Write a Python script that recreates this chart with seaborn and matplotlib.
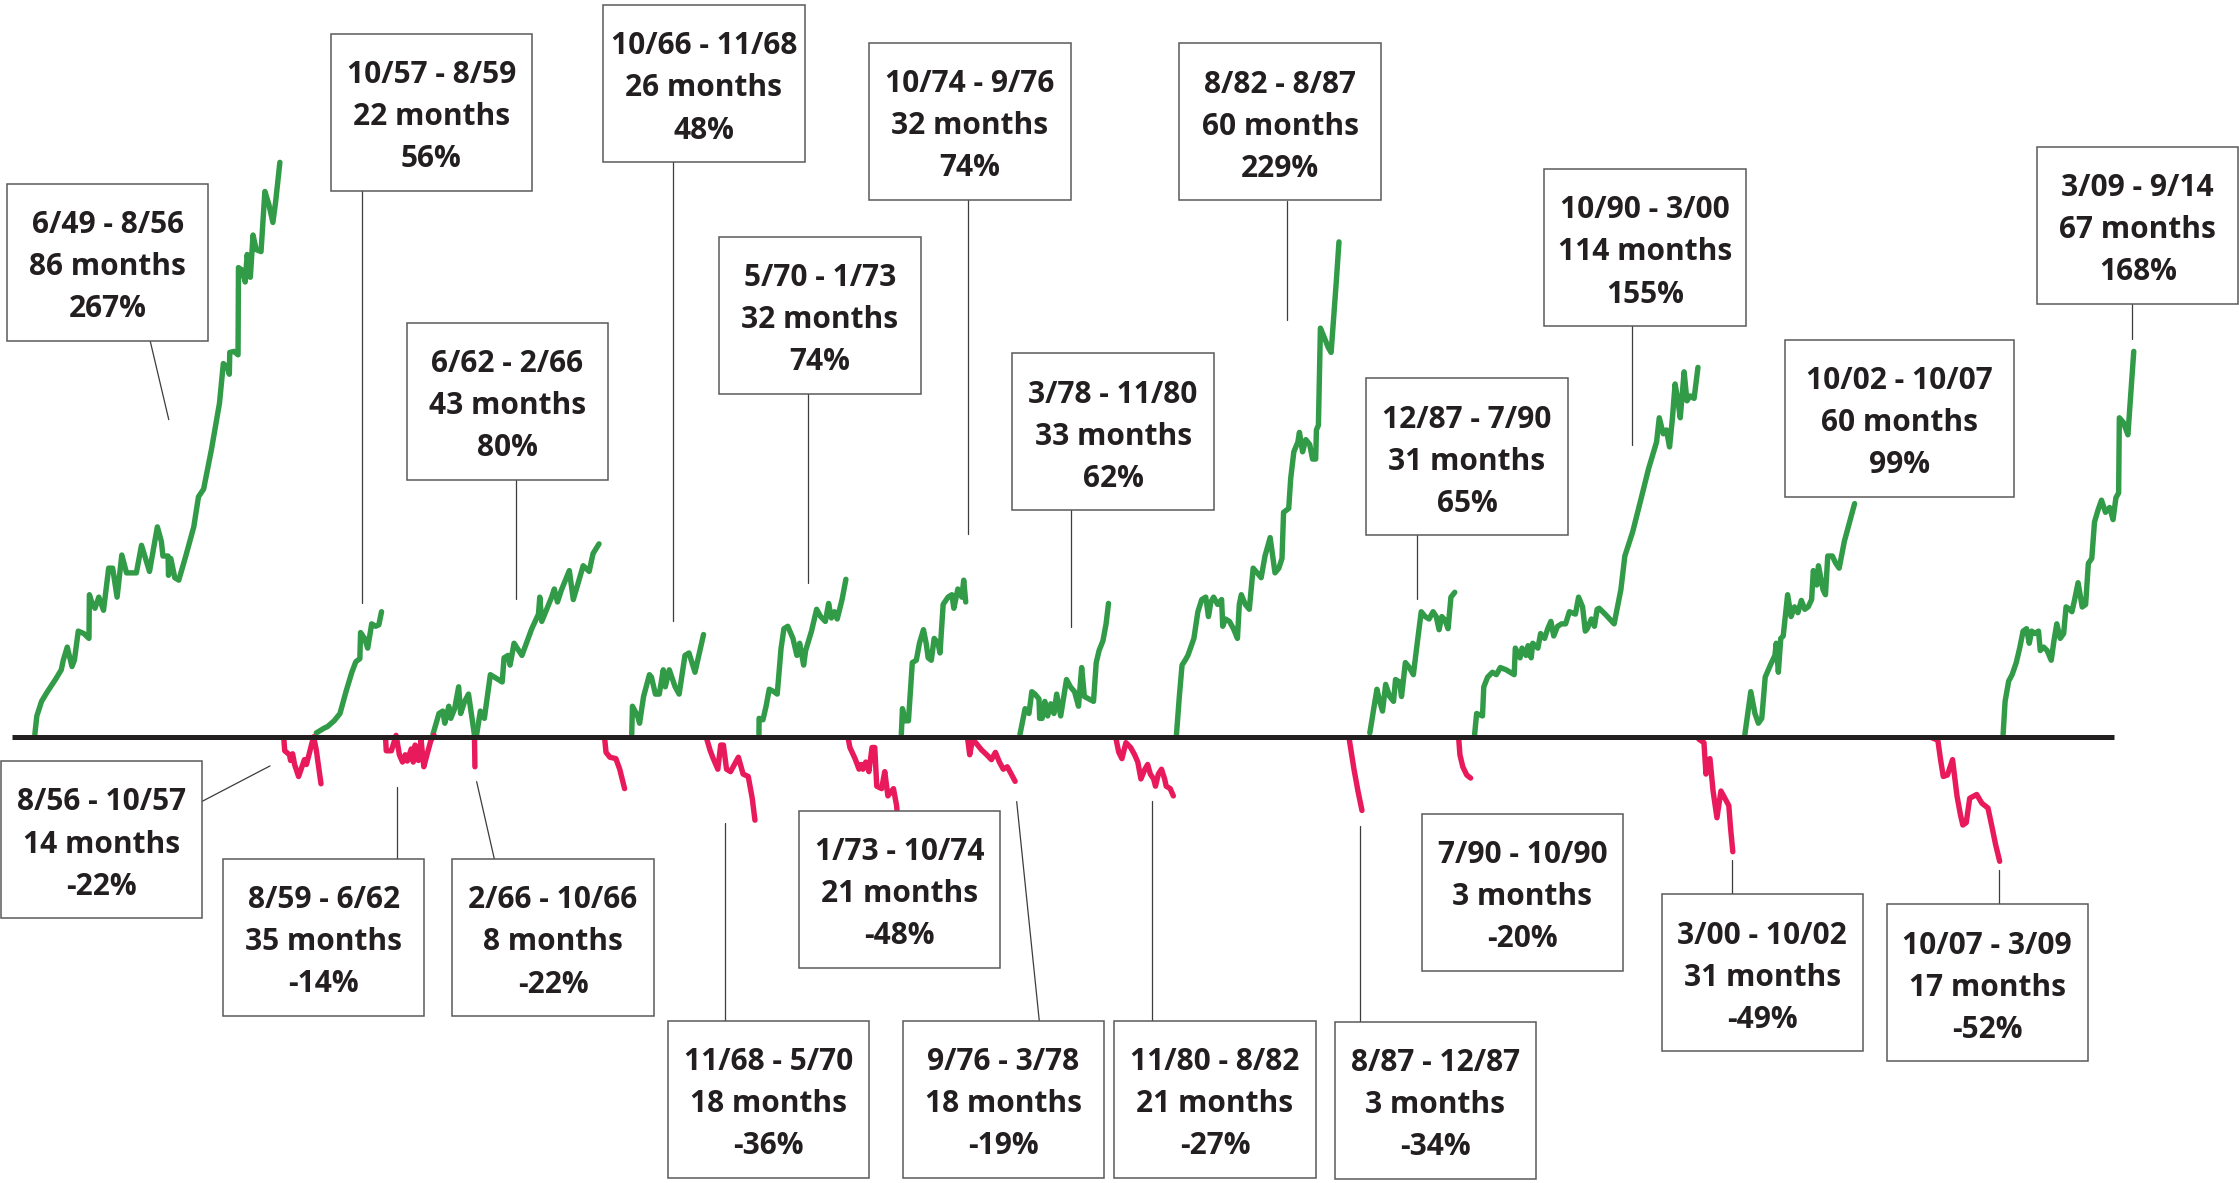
import numpy as np
import pandas as pd
import matplotlib
matplotlib.use("Agg")
import matplotlib.pyplot as plt
from matplotlib.patches import Rectangle
import seaborn as sns

# --- DATOS: tramos alcistas (verde) y bajistas (rojo) ---
# cada punto = (posicion en el eje del tiempo, nivel sobre la linea base)
bull_49_56 = [(24.4, 1.7), (25.8, 14.6), (29.1, 24.8), (33.2, 31.6), (38.8, 40.1), (42.9, 46.9),
              (44.3, 53.6), (47.1, 62.8), (50.4, 49.2), (52.1, 53.6), (54.8, 74.0), (58.7, 72.3),
              (62.3, 68.9), (62.6, 99.5), (64.2, 94.4), (66.5, 90.0), (69.2, 97.8), (72.5, 88.6),
              (76.1, 118.1), (78.9, 118.1), (82.0, 97.8), (85.3, 127.3), (88.6, 114.8), (95.5, 114.8),
              (99.1, 134.1), (104.7, 115.8), (110.2, 147.0), (113.0, 136.8), (114.1, 126.6),
              (117.7, 126.6), (118.0, 113.1), (119.6, 124.9), (122.4, 111.4), (125.2, 109.7),
              (130.1, 126.6), (135.7, 147.0), (139.0, 168.1), (142.6, 173.5), (148.1, 201.3),
              (153.7, 233.6), (156.4, 261.4), (159.2, 259.0), (160.6, 253.9), (160.9, 269.2),
              (163.9, 269.9), (166.7, 267.5), (167.0, 328.6), (169.5, 326.9), (171.7, 318.5),
              (173.1, 337.8), (175.3, 321.8), (177.2, 351.4), (179.4, 341.2), (182.8, 339.8),
              (185.5, 381.9), (188.3, 372.8), (191.1, 360.2), (193.0, 374.5), (196.0, 402.3)]
bull_57_59 = [(221.5, 2.7), (227.1, 6.1), (229.3, 7.1), (234.0, 11.2), (238.1, 16.3), (242.3, 31.6),
              (246.4, 45.2), (249.2, 52.6), (252.0, 54.7), (252.5, 73.0), (255.3, 68.9), (257.5, 62.1),
              (260.3, 79.1), (263.1, 77.4), (265.3, 78.4), (267.2, 87.6)]
bull_62_66a = [(303.2, 1.7), (307.4, 16.3), (310.1, 18.0), (311.5, 9.5), (314.3, 21.4), (315.7, 12.9),
               (318.4, 19.7), (321.2, 35.0), (322.6, 16.3), (325.4, 24.8), (328.1, 29.9), (332.3, 1.0)]
bull_62_66b = [(333.7, 1.0), (336.4, 18.0), (339.2, 12.9), (343.4, 43.5), (351.7, 38.4), (353.0, 55.3),
               (355.8, 57.0), (357.2, 50.2), (360.0, 65.5), (365.5, 57.0), (372.4, 75.7), (377.1, 85.9),
               (378.0, 97.8), (379.4, 80.8), (386.3, 97.8), (388.2, 103.5), (390.4, 94.4),
               (393.2, 102.9), (398.7, 116.4), (401.5, 96.1), (408.4, 119.8), (412.6, 115.8),
               (415.3, 128.3), (419.5, 135.1)]
bull_66_68 = [(442.4, 1.7), (442.9, 21.4), (446.5, 14.6), (447.9, 9.5), (450.7, 28.2), (454.8, 43.5),
              (456.2, 41.8), (459.0, 29.9), (461.7, 29.9), (464.5, 46.9), (465.9, 35.0), (468.7, 46.9),
              (472.8, 35.0), (475.6, 29.9), (479.7, 57.0), (482.5, 58.7), (486.7, 45.2), (492.7, 71.6)]
bull_70_73 = [(531.5, 1.7), (531.6, 12.9), (534.3, 11.9), (536.5, 21.4), (538.7, 33.3), (542.0, 31.6),
              (544.3, 29.9), (547.0, 62.1), (549.0, 75.7), (551.7, 77.4), (555.3, 68.9), (558.1, 57.0),
              (560.0, 65.5), (562.8, 50.2), (564.2, 60.4), (568.3, 74.0), (571.9, 89.3), (574.7, 84.2),
              (578.0, 80.8), (580.3, 93.4), (582.2, 83.2), (584.4, 87.6), (586.3, 82.5), (589.7, 96.1),
              (592.4, 110.3)]
bull_74_76 = [(631.2, 1.7), (632.0, 19.7), (634.0, 11.2), (636.2, 11.2), (638.9, 52.0), (641.7, 53.6),
              (643.9, 65.5), (646.7, 75.0), (648.6, 65.5), (650.0, 55.3), (652.2, 53.6), (654.2, 68.9),
              (656.9, 65.5), (658.3, 58.7), (660.5, 92.7), (663.9, 97.8), (666.6, 99.5), (668.0, 90.0),
              (670.8, 103.5), (673.6, 97.8), (674.9, 109.7), (676.3, 94.4)]
bull_78_80 = [(714.3, 1.7), (717.9, 19.7), (720.6, 16.3), (722.6, 31.6), (724.8, 29.9), (727.6, 26.5),
              (728.1, 12.9), (729.8, 12.9), (731.7, 24.8), (733.7, 14.6), (735.9, 23.1), (738.1, 16.3),
              (740.0, 29.9), (742.8, 14.6), (746.9, 40.1), (749.7, 34.9), (752.5, 31.6), (755.3, 21.4),
              (757.5, 48.5), (759.4, 28.2), (765.8, 24.8), (767.7, 51.9), (769.7, 60.4), (772.4, 67.2),
              (774.6, 79.1), (776.3, 93.4)]
bull_82_87 = [(823.9, 1.7), (825.9, 28.2), (827.8, 50.2), (830.0, 53.6), (831.9, 57.0), (836.1, 68.9),
              (838.9, 87.6), (841.6, 96.1), (844.4, 97.8), (846.3, 84.2), (848.0, 94.4), (849.9, 97.8),
              (852.7, 92.7), (855.5, 96.1), (856.3, 77.4), (858.2, 82.5), (861.0, 80.8), (863.8, 75.7),
              (866.6, 68.9), (867.9, 92.7), (869.3, 99.5), (872.1, 92.7), (874.9, 89.3), (877.6, 118.1),
              (880.4, 114.8), (883.2, 111.4), (885.9, 126.6), (889.5, 139.5), (892.9, 114.8),
              (895.6, 118.1), (897.8, 124.9), (898.9, 157.2), (902.5, 159.9), (903.9, 181.0),
              (906.1, 199.6), (908.9, 206.4), (910.0, 213.2), (912.2, 199.6), (914.5, 208.1),
              (917.2, 204.7), (919.2, 194.5), (921.4, 194.5), (921.9, 214.9), (923.3, 218.3),
              (924.7, 286.2), (927.5, 279.4), (930.2, 272.6), (932.2, 269.2), (935.8, 318.5),
              (937.7, 346.6)]
bull_87_90 = [(959.3, 2.7), (962.6, 23.1), (964.3, 33.3), (966.2, 24.8), (968.2, 18.0), (970.4, 36.7),
              (973.2, 28.2), (975.9, 24.8), (977.3, 40.1), (980.1, 38.4), (981.5, 28.2), (984.2, 52.0),
              (987.0, 48.5), (989.8, 43.5), (992.5, 65.5), (995.3, 87.6), (998.1, 84.2), (1000.8, 82.5),
              (1003.6, 87.6), (1005.8, 84.2), (1007.8, 75.0), (1009.7, 84.2), (1011.9, 81.8),
              (1014.1, 75.7), (1016.1, 97.8), (1018.8, 101.2)]
bull_90_00 = [(1032.7, 1.7), (1034.1, 16.3), (1038.2, 14.6), (1039.1, 34.9), (1041.8, 41.8),
              (1045.2, 45.2), (1047.9, 43.5), (1050.7, 48.5), (1054.8, 46.9), (1060.4, 43.5),
              (1061.2, 62.1), (1064.5, 55.3), (1065.9, 62.1), (1068.7, 57.0), (1070.1, 63.8),
              (1072.3, 55.3), (1073.4, 65.5), (1077.0, 62.1), (1078.9, 72.3), (1081.7, 68.9),
              (1083.9, 75.7), (1086.1, 80.8), (1088.1, 70.6), (1090.8, 77.4), (1093.6, 79.1),
              (1096.4, 79.1), (1099.1, 87.6), (1103.3, 85.9), (1105.5, 97.8), (1108.3, 91.0),
              (1110.2, 74.0), (1111.6, 75.7), (1114.4, 82.5), (1116.6, 77.4), (1118.5, 89.3),
              (1119.9, 90.0), (1124.1, 85.9), (1130.4, 79.1), (1135.1, 102.9), (1137.9, 126.6),
              (1143.4, 143.6), (1149.0, 165.7), (1154.5, 187.7), (1160.1, 206.4), (1162.0, 223.4),
              (1164.8, 212.2), (1167.0, 214.9), (1169.2, 203.0), (1171.1, 221.7), (1173.1, 247.1),
              (1175.3, 233.6), (1176.7, 223.4), (1179.4, 255.6), (1181.4, 235.3), (1183.6, 238.7),
              (1186.4, 237.0), (1189.1, 258.7)]
bull_02_07 = [(1221.8, 0.5), (1226.1, 31.6), (1229.0, 16.3), (1231.4, 9.5), (1233.8, 12.9),
              (1236.2, 41.8), (1239.8, 50.2), (1243.0, 57.0), (1243.9, 65.5), (1245.4, 45.2),
              (1247.1, 68.9), (1248.8, 70.6), (1251.9, 99.5), (1254.3, 84.2), (1256.7, 91.0),
              (1259.1, 86.9), (1261.5, 95.5), (1263.9, 89.3), (1266.3, 91.0), (1268.7, 96.1),
              (1269.9, 116.4), (1272.3, 106.3), (1273.5, 119.8), (1276.7, 102.9), (1278.4, 99.5),
              (1280.0, 126.6), (1283.2, 126.6), (1285.6, 121.5), (1288.0, 118.1), (1291.6, 136.8),
              (1298.8, 163.3)]
bull_09_14 = [(1402.8, 1.7), (1404.2, 24.8), (1406.7, 39.0), (1409.1, 43.5), (1412.0, 51.9),
              (1414.4, 62.1), (1416.8, 74.0), (1419.2, 75.7), (1421.1, 65.5), (1422.8, 74.0),
              (1425.2, 72.3), (1427.6, 74.0), (1428.8, 60.4), (1431.2, 62.8), (1433.6, 60.4),
              (1436.5, 53.6), (1438.4, 67.2), (1440.4, 79.1), (1442.8, 68.9), (1445.2, 72.3),
              (1446.9, 91.0), (1449.3, 89.3), (1451.0, 87.6), (1452.9, 96.1), (1455.3, 107.9),
              (1458.2, 90.9), (1460.6, 92.7), (1462.5, 121.5), (1464.9, 124.9), (1466.8, 150.4),
              (1469.3, 158.9), (1471.7, 165.7), (1474.5, 157.2), (1477.4, 160.6), (1479.8, 152.1),
              (1481.8, 167.4), (1483.7, 170.8), (1484.2, 223.4), (1487.1, 220.0), (1490.2, 211.5),
              (1494.3, 269.9)]

bear_56_57 = [(198.8, -1.7), (199.4, -9.8), (202.7, -12.6), (203.5, -16.6), (204.9, -11.9),
              (206.3, -19.4), (209.1, -27.8), (213.2, -16.0), (214.6, -19.4), (219.6, 0.0),
              (221.5, -9.2), (222.9, -19.4), (224.8, -32.9)]
bear_59_62 = [(270.0, -0.7), (270.5, -9.8), (274.1, -9.8), (277.4, 1.0), (279.7, -12.6), (281.9, -17.7),
              (283.8, -12.6), (285.2, -17.0), (288.0, -8.5), (289.4, -17.7), (290.7, -5.8),
              (293.0, -16.6), (294.9, -2.4), (296.8, -21.0), (299.0, -12.6), (301.8, -2.4), (304.0, 1.0)]
bear_66_spike = [(332.3, -1.0), (332.6, -21.0)]
bear_66_66 = [(423.5, -1.7), (424.4, -10.9), (427.1, -14.3), (431.3, -15.3), (434.0, -22.7),
              (437.4, -36.3)]
bear_68_70 = [(495.0, -1.7), (497.2, -9.2), (499.1, -14.3), (502.7, -22.7), (504.7, -5.8), (506.6, -5.8),
              (508.8, -22.7), (511.6, -24.4), (517.1, -14.3), (520.4, -26.1), (524.0, -27.8),
              (526.8, -43.1), (528.7, -58.4)]
bear_73_74 = [(594.1, -1.7), (595.2, -7.5), (598.8, -15.3), (601.6, -22.7), (603.0, -19.4),
              (604.3, -22.7), (606.3, -17.7), (608.5, -24.4), (610.7, -7.5), (612.6, -7.5),
              (614.0, -34.6), (617.4, -36.3), (619.6, -24.4), (621.8, -41.4), (625.7, -36.3),
              (627.9, -48.2), (629.3, -65.2)]
bear_76_78 = [(677.7, -1.7), (679.1, -12.6), (681.0, -2.4), (683.3, -4.1), (687.4, -9.2), (691.0, -12.6),
              (694.3, -16.0), (697.1, -10.9), (699.9, -17.7), (702.6, -22.7), (705.4, -21.0),
              (708.2, -26.1), (710.9, -31.2)]
bear_80_82 = [(781.6, -1.7), (783.5, -10.9), (785.7, -15.3), (788.5, -4.1), (791.8, -7.5),
              (794.6, -12.6), (796.8, -17.7), (799.0, -29.5), (801.8, -22.7), (803.7, -19.4),
              (805.6, -26.1), (807.9, -29.5), (809.2, -34.6), (811.2, -26.1), (813.4, -22.7),
              (815.6, -29.5), (816.7, -34.6), (819.5, -36.3), (821.7, -41.4)]
bear_87_87 = [(944.9, -1.7), (948.2, -22.7), (951.0, -38.0), (953.8, -51.6)]
bear_90_90 = [(1021.6, -1.7), (1022.4, -12.6), (1024.4, -21.0), (1027.2, -26.8), (1029.9, -28.9)]
bear_00_02 = [(1189.7, -1.7), (1193.3, -4.1), (1194.7, -26.1), (1197.5, -15.3), (1199.7, -38.0),
              (1202.4, -56.7), (1205.2, -38.0), (1208.0, -43.1), (1210.7, -48.2), (1211.9, -63.5),
              (1213.5, -80.5)]
bear_07_09 = [(1353.0, -0.7), (1357.1, -2.4), (1359.0, -16.0), (1360.9, -27.8), (1363.8, -26.8),
              (1367.4, -16.0), (1370.5, -41.4), (1373.0, -55.0), (1374.6, -61.8), (1377.0, -60.1),
              (1379.4, -43.1), (1384.3, -40.4), (1387.9, -46.5), (1392.2, -49.9), (1395.1, -63.5),
              (1397.5, -75.3), (1400.4, -87.2)]

# etiquetas
bull_periods = ['6/49 - 8/56', '10/57 - 8/59', '6/62 - 2/66', '10/66 - 11/68', '5/70 - 1/73',
                '10/74 - 9/76', '3/78 - 11/80', '8/82 - 8/87', '12/87 - 7/90', '10/90 - 3/00',
                '10/02 - 10/07', '3/09 - 9/14']
bull_months = [86, 22, 43, 26, 32, 32, 33, 60, 31, 114, 60, 67]
bull_gain = [267, 56, 80, 48, 74, 74, 62, 229, 65, 155, 99, 168]

bear_periods = ['8/56 - 10/57', '8/59 - 6/62', '2/66 - 10/66', '11/68 - 5/70', '1/73 - 10/74',
                '9/76 - 3/78', '11/80 - 8/82', '8/87 - 12/87', '7/90 - 10/90', '3/00 - 10/02',
                '10/07 - 3/09']
bear_months = [14, 35, 8, 18, 21, 18, 21, 3, 3, 31, 17]
bear_loss = [-22, -14, -22, -36, -48, -19, -27, -34, -20, -49, -52]

# --- DISEÑO (coordenadas de pantalla: y hacia abajo, linea base en y=516) ---
BASE = 516
BOX_W, BOX_H = 141, 110
bull_box = [(5.0, 128.6), (231.6, 23.6), (284.7, 226.0), (422.5, 3.5), (503.8, 165.9), (608.7, 29.9),
            (709.0, 247.4), (826.0, 30.3), (956.8, 265.0), (1081.4, 118.4), (1250.0, 237.9),
            (1426.6, 102.8)]
bull_box_w = [BOX_W] * 10 + [160.7, BOX_W]
bull_leader = [((105.2, 238.9), (118.2, 293.9)), ((253.5, 133.7), (253.5, 422.2)),
               ((361.6, 336.3), (361.6, 419.8)), ((471.5, 113.7), (471.5, 434.8)),
               ((566.1, 275.6), (566.1, 408.6)), ((677.8, 140.3), (677.8, 373.7)),
               ((750.3, 357.0), (750.3, 439.2)), ((901.0, 140.5), (901.0, 224.3)),
               ((992.5, 374.7), (992.5, 419.8)), ((1142.6, 228.4), (1142.6, 311.9)),
               None, ((1493.1, 212.8), (1493.1, 237.2))]
bear_box = [(0.5, 533.1), (156.2, 601.3), (316.8, 601.6), (467.6, 714.7), (559.5, 567.9),
            (632.1, 714.7), (780.3, 714.7), (934.6, 715.7), (995.6, 569.8), (1163.7, 626.3),
            (1321.2, 633.3)]
bear_leader = [((141.2, 561.4), (189.1, 536.4)), ((277.8, 550.9), (277.8, 601.3)),
               ((333.8, 547.4), (346.2, 601.6)), ((507.7, 576.1), (507.7, 714.7)), None,
               ((712.0, 561.4), (727.8, 714.7)), ((807.0, 560.7), (807.0, 714.7)),
               ((952.4, 578.2), (952.4, 715.7)), None, ((1213.2, 602.2), (1213.2, 626.3)),
               ((1400.1, 609.2), (1400.1, 633.3))]

GREEN = '#319b48'
RED = '#e91a5b'
INK = '#231f20'


def armar_tabla():
    tramos = {
        'bull': [bull_49_56, bull_57_59, bull_62_66a, bull_62_66b, bull_66_68, bull_70_73,
                 bull_74_76, bull_78_80, bull_82_87, bull_87_90, bull_90_00, bull_02_07, bull_09_14],
        'bear': [bear_56_57, bear_59_62, bear_66_spike, bear_66_66, bear_68_70, bear_73_74,
                 bear_76_78, bear_80_82, bear_87_87, bear_90_90, bear_00_02, bear_07_09],
    }
    filas = []
    for fase, lista in tramos.items():
        for i, puntos in enumerate(lista):
            for t, v in puntos:
                filas.append((f'{fase}{i}', fase, t, v))
    return pd.DataFrame(filas, columns=['segment', 'phase', 't', 'level'])


def caja(ax, left, top, w, lineas, leader):
    ax.add_patch(Rectangle((left, BASE - top - BOX_H), w, BOX_H, facecolor='white',
                           edgecolor='#5a5a5a', linewidth=1.1, zorder=4))
    for off, txt in zip((34.5, 64, 93.5), lineas):
        ax.text(left + w / 2, BASE - top - off, txt, ha='center', va='baseline',
                fontsize=21.5, fontweight='bold', color=INK, zorder=5)
    if leader is not None:
        (x0, y0), (x1, y1) = leader
        ax.plot([x0, x1], [BASE - y0, BASE - y1], color='#3c3c3c', linewidth=0.9, zorder=3)


def dibujar():
    df = armar_tabla()
    sns.set_style('white')
    plt.rcParams['font.family'] = ['Open Sans', 'DejaVu Sans']

    fig = plt.figure(figsize=(22.39, 11.83), dpi=100)
    ax = fig.add_axes([0, 0, 1, 1])

    sns.lineplot(data=df, x='t', y='level', hue='phase', units='segment', estimator=None,
                 sort=False, palette={'bull': GREEN, 'bear': RED},
                 legend=False, ax=ax, zorder=2)
    for ln in ax.lines:
        ln.set_linewidth(3.9)
        ln.set_solid_capstyle('round')
        ln.set_solid_joinstyle('round')

    # linea base
    ax.plot([8.3, 1480.5], [0, 0], color=INK, linewidth=3.6, solid_capstyle='butt', zorder=3)

    for k in range(len(bull_periods)):
        lineas = [bull_periods[k], f'{bull_months[k]} months', f'{bull_gain[k]}%']
        caja(ax, bull_box[k][0], bull_box[k][1], bull_box_w[k], lineas, bull_leader[k])
    for k in range(len(bear_periods)):
        lineas = [bear_periods[k], f'{bear_months[k]} months', f'{bear_loss[k]}%']
        caja(ax, bear_box[k][0], bear_box[k][1], BOX_W, lineas, bear_leader[k])

    ax.set_xlim(0, 1568)
    ax.set_ylim(BASE - 828.5, BASE)
    ax.axis('off')
    fig.savefig('out.png', dpi=100, facecolor='white')


if __name__ == '__main__':
    dibujar()
